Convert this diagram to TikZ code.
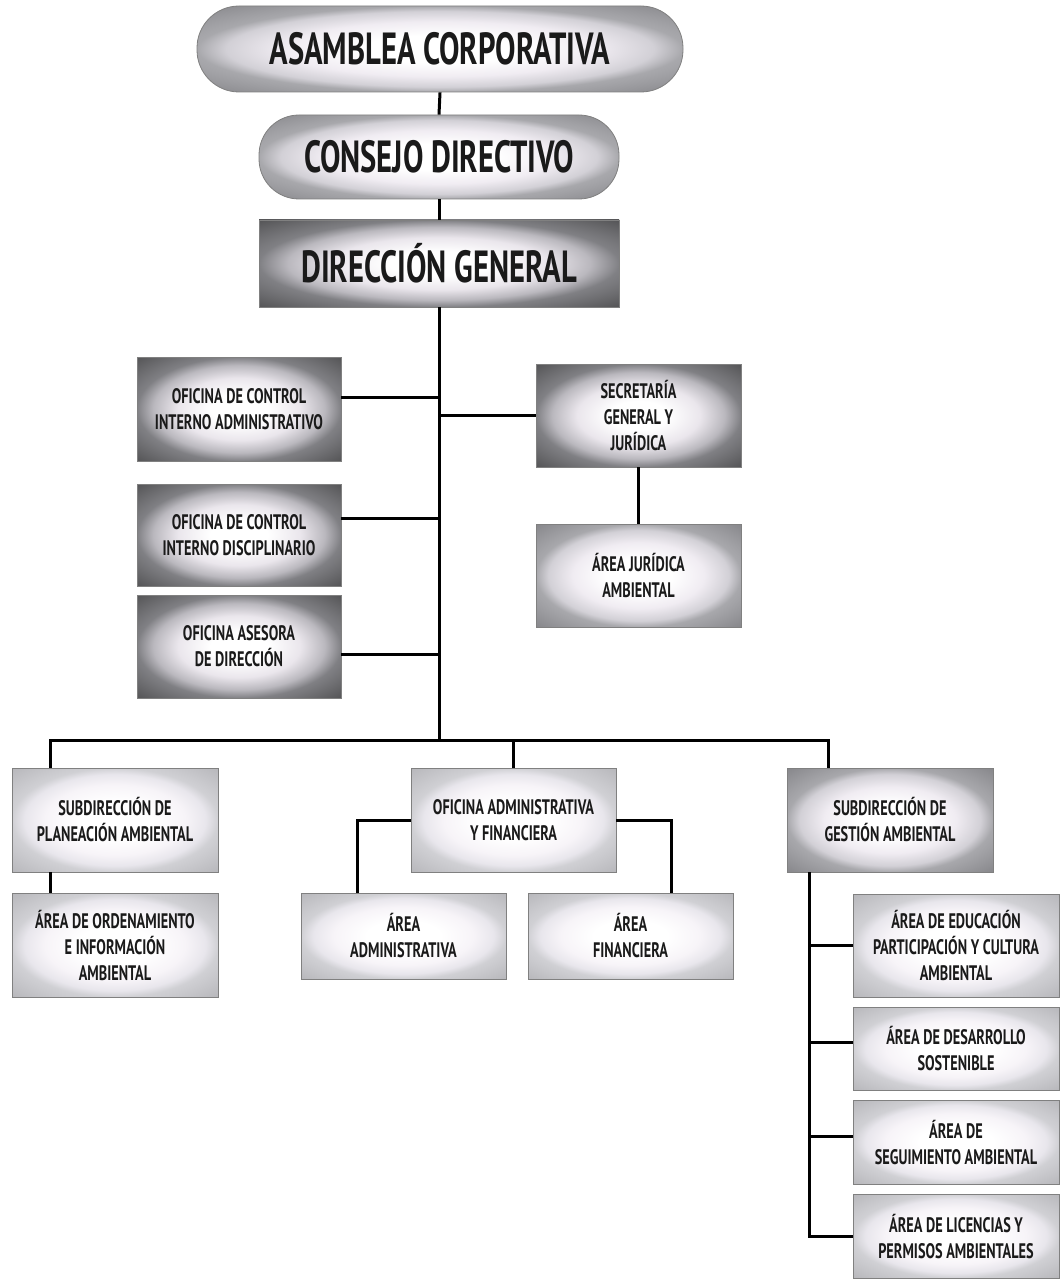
\documentclass[tikz,border=0pt]{standalone}
\usepackage{fontspec}
\setmainfont{PT Sans}[FakeStretch=0.68]
\definecolor{txt}{HTML}{1A1A1A}
\definecolor{dA}{HTML}{EAE6EC}
\definecolor{dB}{HTML}{BAB8BE}
\definecolor{dC}{HTML}{808084}
\definecolor{dD}{HTML}{565658}
\definecolor{mA}{HTML}{F0ECF2}
\definecolor{mB}{HTML}{D2D0D6}
\definecolor{mC}{HTML}{A8A8AC}
\definecolor{mD}{HTML}{88888C}
\definecolor{lA}{HTML}{F7F4F8}
\definecolor{lB}{HTML}{E8E6EC}
\definecolor{lC}{HTML}{D0D0D4}
\definecolor{lD}{HTML}{B8B8BC}
\pgfdeclareradialshading{vdark}{\pgfpoint{0bp}{0bp}}{color(0bp)=(white); color(7bp)=(white); color(15bp)=(dA); color(21bp)=(dB); color(25bp)=(dC); color(35bp)=(dD); color(50bp)=(dD)}
\pgfdeclareradialshading{vmid}{\pgfpoint{0bp}{0bp}}{color(0bp)=(white); color(8bp)=(white); color(16bp)=(mA); color(22bp)=(mB); color(25bp)=(mC); color(35bp)=(mD); color(50bp)=(mD)}
\pgfdeclareradialshading{vlight}{\pgfpoint{0bp}{0bp}}{color(0bp)=(white); color(9bp)=(white); color(17bp)=(lA); color(22bp)=(lB); color(25bp)=(lC); color(35bp)=(lD); color(50bp)=(lD)}
\tikzset{
  boxbase/.style={draw=black!50, line width=0.8pt, align=center, inner sep=0pt, text=txt, font=\bfseries\fontsize{21}{26}\selectfont},
  bigbox/.style={boxbase, shading=vmid, font=\bfseries\fontsize{45}{50}\selectfont},
  darkbox/.style={boxbase, shading=vdark, minimum width=204pt},
  midbox/.style={boxbase, shading=vmid, minimum width=205pt},
  lightbox/.style={boxbase, shading=vlight, minimum width=206pt},
  conn/.style={line width=3pt, black}
}
\begin{document}
\begin{tikzpicture}[x=1pt,y=-1pt]
\useasboundingbox (0,0) rectangle (1061,1281);
% top
\node[bigbox, rounded corners=42pt, minimum width=486pt, minimum height=86pt] (asa) at (440,49) {ASAMBLEA CORPORATIVA};
\node[bigbox, rounded corners=40pt, minimum width=360pt, minimum height=84pt] (con) at (439,157) {CONSEJO DIRECTIVO};
\node[bigbox, shading=vdark, minimum width=360pt, minimum height=87pt] (dir) at (439,263.5) {DIRECCIÓN GENERAL};
% staff offices
\node[darkbox, minimum height=104pt] (oca) at (239,409) {OFICINA DE CONTROL\\INTERNO ADMINISTRATIVO};
\node[darkbox, minimum height=102pt] (ocd) at (239,535) {OFICINA DE CONTROL\\INTERNO DISCIPLINARIO};
\node[darkbox, minimum height=103pt] (oad) at (239,646.5) {OFICINA ASESORA\\DE DIRECCIÓN};
\node[darkbox, minimum width=205pt, minimum height=103pt] (sec) at (638.5,415.5) {SECRETARÍA\\GENERAL Y\\JURÍDICA};
\node[midbox, minimum height=103pt] (ajr) at (638.5,575.5) {ÁREA JURÍDICA\\AMBIENTAL};
% lower level
\node[lightbox, minimum height=104pt] (pla) at (115,820) {SUBDIRECCIÓN DE\\PLANEACIÓN AMBIENTAL};
\node[lightbox, minimum height=104pt] (ord) at (115,945) {ÁREA DE ORDENAMIENTO\\E INFORMACIÓN\\AMBIENTAL};
\node[lightbox, minimum width=205pt, minimum height=104pt] (ofi) at (513.5,820) {OFICINA ADMINISTRATIVA\\Y FINANCIERA};
\node[lightbox, minimum width=205pt, minimum height=86pt] (aad) at (403.5,936) {ÁREA\\ADMINISTRATIVA};
\node[lightbox, minimum width=205pt, minimum height=86pt] (afi) at (630.5,936) {ÁREA\\FINANCIERA};
\node[midbox, minimum width=206pt, minimum height=104pt] (ges) at (890,820) {SUBDIRECCIÓN DE\\GESTIÓN AMBIENTAL};
\node[lightbox, minimum height=103pt] (edu) at (956,945.5) {ÁREA DE EDUCACIÓN\\PARTICIPACIÓN Y CULTURA\\AMBIENTAL};
\node[lightbox, minimum height=83pt] (des) at (956,1048.5) {ÁREA DE DESARROLLO\\SOSTENIBLE};
\node[lightbox, minimum height=84pt] (seg) at (956,1142) {ÁREA DE\\SEGUIMIENTO AMBIENTAL};
\node[lightbox, minimum height=84pt] (lic) at (956,1236) {ÁREA DE LICENCIAS Y\\PERMISOS AMBIENTALES};
% connectors
\coordinate (bus) at (439,740);
\draw[conn] (asa.south) -- (con.north);
\draw[conn] (con.south) -- (dir.north);
\draw[conn] (dir.south) -- (bus);
\draw[conn] ([yshift=12pt]oca.east) -- ([yshift=12pt]oca.east -| bus);
\draw[conn] ([yshift=17pt]ocd.east) -- ([yshift=17pt]ocd.east -| bus);
\draw[conn] ([yshift=-7.5pt]oad.east) -- ([yshift=-7.5pt]oad.east -| bus);
\draw[conn] (sec.west) -- (sec.west -| bus);
\draw[conn] (sec.south) -- (ajr.north);
\coordinate (pv) at ([xshift=-65pt]pla.north);
\coordinate (gd) at ([xshift=-62pt]ges.north);
\draw[conn] (pv) |- (bus) -| (gd);
\draw[conn] (ofi.north) -- (ofi.north |- bus);
\draw[conn] ([xshift=-65pt]pla.south) -- ([xshift=-65pt]ord.north);
\draw[conn] (ofi.west) -| ([xshift=-46.5pt]aad.north);
\draw[conn] (ofi.east) -| ([xshift=40.5pt]afi.north);
\coordinate (gv) at ([xshift=-81pt]ges.south);
\draw[conn] (gv) |- (lic.west);
\draw[conn] (edu.west) -- (edu.west -| gv);
\draw[conn] ([yshift=6.5pt]des.west) -- ([yshift=6.5pt]des.west -| gv);
\draw[conn] ([yshift=6pt]seg.west) -- ([yshift=6pt]seg.west -| gv);
\end{tikzpicture}
\end{document}
